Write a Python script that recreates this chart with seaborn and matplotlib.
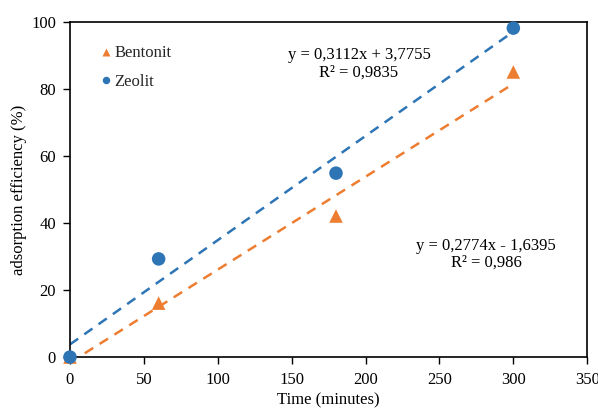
import matplotlib
matplotlib.use("Agg")
import matplotlib.pyplot as plt
import seaborn as sns
import numpy as np
import pandas as pd

time_min = [0, 60, 180, 300]
bentonit = [0, 16.1, 42.1, 85.1]
zeolit = [0, 29.3, 54.9, 98.2]
series_names = ["Bentonit", "Zeolit"]
colors = {"Bentonit": "#ED7D31", "Zeolit": "#2E75B6"}
markers = {"Bentonit": "^", "Zeolit": "o"}
# trendline coefficients (slope, intercept) as shown on chart
trend = {"Zeolit": (0.3112, 3.7755), "Bentonit": (0.2774, -1.6395)}
eq_text = {"Zeolit": "y = 0,3112x + 3,7755\nR² = 0,9835",
           "Bentonit": "y = 0,2774x - 1,6395\nR² = 0,986"}

sns.set_theme(style="white")
plt.rcParams['font.family'] = ['Liberation Serif', 'DejaVu Serif']

df = pd.DataFrame({
    "Time": time_min * 2,
    "val": bentonit + zeolit,
    "series": ["Bentonit"] * 4 + ["Zeolit"] * 4,
})

fig = plt.figure(figsize=(5.98, 4.09), dpi=100)
ax = fig.add_axes([0.117, 0.127, 0.865, 0.819])

# trendlines
tx = np.array([0, 300])
for name in ["Zeolit", "Bentonit"]:
    m, b = trend[name]
    tdf = pd.DataFrame({"x": tx, "y": m * tx + b})
    sns.lineplot(data=tdf, x="x", y="y", ax=ax, color=colors[name],
                 linestyle=(0, (4, 3)), linewidth=1.8, legend=False, zorder=2)

sns.scatterplot(data=df, x="Time", y="val", hue="series", style="series",
                palette=colors, markers=markers, s=95, edgecolor="none",
                ax=ax, zorder=3, clip_on=False)

fs = 12
ax.set_xlim(0, 350)
ax.set_ylim(0, 100)
ax.set_xticks(range(0, 351, 50))
ax.set_yticks(range(0, 101, 20))
ax.set_xlabel("Time (minutes)", fontsize=fs, color="black", labelpad=3)
ax.set_ylabel("adsorption efficiency (%)", fontsize=fs, color="black", labelpad=3)
ax.tick_params(axis="both", labelsize=fs, colors="black", direction="out",
               length=5, width=1, bottom=True, left=True)
ax.tick_params(axis="x", pad=6)
ax.tick_params(axis="y", pad=5)
for sp in ax.spines.values():
    sp.set_color("black")
    sp.set_linewidth(1.2)

handles, labels = ax.get_legend_handles_labels()
leg = ax.legend(handles, labels, loc="upper left", bbox_to_anchor=(0.022, 0.975),
                frameon=False, fontsize=fs, handletextpad=-0.1, labelspacing=0.75,
                markerscale=0.55, handlelength=1.2)

ax.text(195.6, 87.5, eq_text["Zeolit"], ha="center", va="center", fontsize=fs,
        linespacing=1.1, color="black")
ax.text(281.6, 30.7, eq_text["Bentonit"], ha="center", va="center", fontsize=fs,
        linespacing=1.1, color="black")

fig.savefig("out.png", dpi=100)
